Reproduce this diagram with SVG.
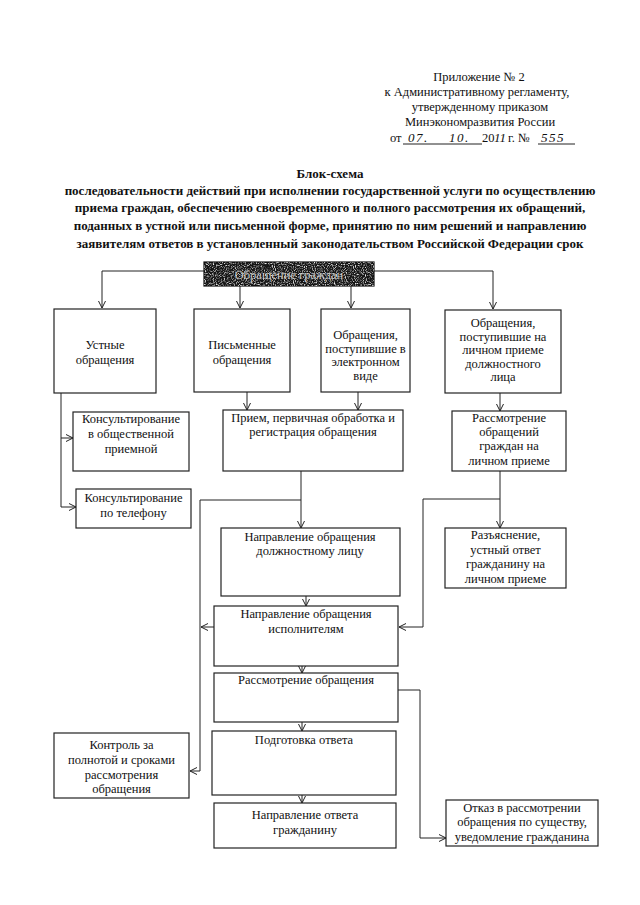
<svg xmlns="http://www.w3.org/2000/svg" width="640" height="905" viewBox="0 0 640 905">
<style>
.t{font-family:"Liberation Serif","Times New Roman",serif;font-size:12.5px;fill:#111;text-anchor:middle}
.l{text-anchor:start}
.b{font-weight:bold;font-size:13px}
.h{font-style:italic;font-size:13px;text-anchor:start;letter-spacing:1.5px}
.box{fill:#fff;stroke:#222;stroke-width:1.2}
.ln{fill:none;stroke:#222;stroke-width:1}
.arr{marker-end:url(#ah)}
</style>
<defs>
<marker id="ah" markerUnits="userSpaceOnUse" markerWidth="10" markerHeight="10" viewBox="0 0 10 10" refX="9" refY="5" orient="auto">
<path d="M2,1.5 L9,5 L2,8.5" fill="none" stroke="#222" stroke-width="1"/>
</marker>
<filter id="speck" x="0" y="0" width="100%" height="100%">
<feTurbulence type="fractalNoise" baseFrequency="0.9" numOctaves="1" seed="4" result="n"/>
<feColorMatrix in="n" type="matrix" values="0 0 0 0 0.85  0 0 0 0 0.85  0 0 0 0 0.85  3.2 0 0 0 -1.5"/>
<feComposite in2="SourceGraphic" operator="in"/>
</filter>
</defs>

<g id="header">
<text class="t" x="479" y="81">Приложение № 2</text>
<text class="t" x="477" y="96">к Административному регламенту,</text>
<text class="t" x="480" y="111">утвержденному приказом</text>
<text class="t" x="480" y="126">Минэкономразвития России</text>
<text class="t l" x="390" y="142">от</text>
<line class="ln" x1="403" y1="144" x2="482" y2="144"/>
<text class="t h" x="408" y="142">07.</text>
<text class="t h" x="449" y="142">10.</text>
<text class="t l" x="482" y="142">20</text>
<text class="t h" x="494" y="142" style="letter-spacing:0">11</text>
<text class="t l" x="508" y="142">г. №</text>
<line class="ln" x1="538" y1="144" x2="575" y2="144"/>
<text class="t h" x="541" y="142">555</text>
</g>

<g id="title">
<text class="t b" x="330" y="178">Блок-схема</text>
<text class="t b" x="330" y="195">последовательности действий при исполнении государственной услуги по осуществлению</text>
<text class="t b" x="330" y="212">приема граждан, обеспечению своевременного и полного рассмотрения их обращений,</text>
<text class="t b" x="330" y="230">поданных в устной или письменной форме, принятию по ним решений и направлению</text>
<text class="t b" x="330" y="248">заявителям ответов в установленный законодательством Российской Федерации срок</text>
</g>

<g id="connectors">
<polyline class="ln arr" points="204,271 102,271 102,308"/>
<polyline class="ln arr" points="374,271 493,271 493,309"/>
<line class="ln arr" x1="240" y1="286" x2="240" y2="308"/>
<line class="ln arr" x1="351" y1="286" x2="351" y2="308"/>
<line class="ln" x1="61" y1="393" x2="61" y2="507"/>
<line class="ln arr" x1="61" y1="438" x2="73" y2="438"/>
<line class="ln arr" x1="61" y1="507" x2="76" y2="507"/>
<line class="ln arr" x1="247" y1="392" x2="247" y2="410"/>
<line class="ln arr" x1="358" y1="392" x2="358" y2="410"/>
<line class="ln arr" x1="500" y1="393" x2="500" y2="411"/>
<line class="ln arr" x1="301" y1="471" x2="301" y2="528"/>
<polyline class="ln arr" points="301,500 200,500 200,771 190,771"/>
<line class="ln arr" x1="214" y1="627" x2="201" y2="627"/>
<line class="ln arr" x1="500" y1="471" x2="500" y2="528"/>
<polyline class="ln arr" points="500,499 423,499 423,627 399,627"/>
<line class="ln arr" x1="306" y1="596" x2="306" y2="606"/>
<line class="ln arr" x1="302" y1="666" x2="302" y2="673"/>
<line class="ln arr" x1="302" y1="722" x2="302" y2="731"/>
<line class="ln arr" x1="302" y1="795" x2="302" y2="803"/>
<polyline class="ln arr" points="398,690 420,690 420,838 446,838"/>
</g>

<g id="n-root">
<rect x="204" y="262" width="170" height="24" fill="#151515" stroke="#111" stroke-width="1.2"/>
<rect x="204" y="262" width="170" height="24" fill="#fff" filter="url(#speck)"/>
<text class="t" x="289" y="279" style="fill:#c8c8c8">Обращение граждан</text>
</g>
<g id="n-oral">
<rect class="box" x="54" y="309" width="102" height="84"/>
<text class="t" x="105" y="349">Устные</text>
<text class="t" x="105" y="364">обращения</text>
</g>
<g id="n-written">
<rect class="box" x="194" y="309" width="96" height="83"/>
<text class="t" x="242" y="349">Письменные</text>
<text class="t" x="242" y="364">обращения</text>
</g>
<g id="n-electronic">
<rect class="box" x="321" y="309" width="89" height="83"/>
<text class="t" x="365.5" y="339">Обращения,</text>
<text class="t" x="365.5" y="352.5">поступившие в</text>
<text class="t" x="365.5" y="366">электронном</text>
<text class="t" x="365.5" y="379.5">виде</text>
</g>
<g id="n-personal">
<rect class="box" x="445" y="310" width="116" height="83"/>
<text class="t" x="503" y="327">Обращения,</text>
<text class="t" x="503" y="340.5">поступившие на</text>
<text class="t" x="503" y="354">личном приеме</text>
<text class="t" x="503" y="367.5">должностного</text>
<text class="t" x="503" y="381">лица</text>
</g>
<g id="n-consult-public">
<rect class="box" x="73" y="412" width="116" height="59"/>
<text class="t" x="131" y="423">Консультирование</text>
<text class="t" x="131" y="438">в общественной</text>
<text class="t" x="131" y="453">приемной</text>
</g>
<g id="n-consult-phone">
<rect class="box" x="76" y="489" width="115" height="39"/>
<text class="t" x="133.5" y="502">Консультирование</text>
<text class="t" x="133.5" y="517">по телефону</text>
</g>
<g id="n-registration">
<rect class="box" x="223" y="410" width="180" height="61"/>
<text class="t" x="313" y="422">Прием, первичная обработка и</text>
<text class="t" x="313" y="436">регистрация обращения</text>
</g>
<g id="n-review-personal">
<rect class="box" x="452" y="411" width="114" height="60"/>
<text class="t" x="509" y="422">Рассмотрение</text>
<text class="t" x="509" y="436">обращений</text>
<text class="t" x="509" y="450">граждан на</text>
<text class="t" x="509" y="465">личном приеме</text>
</g>
<g id="n-to-official">
<rect class="box" x="221" y="528" width="179" height="68"/>
<text class="t" x="310" y="541">Направление обращения</text>
<text class="t" x="310" y="555">должностному лицу</text>
</g>
<g id="n-explain">
<rect class="box" x="445" y="528" width="121" height="60"/>
<text class="t" x="505.5" y="539">Разъяснение,</text>
<text class="t" x="505.5" y="553.5">устный ответ</text>
<text class="t" x="505.5" y="568">гражданину на</text>
<text class="t" x="505.5" y="582.5">личном приеме</text>
</g>
<g id="n-to-executors">
<rect class="box" x="214" y="606" width="184" height="60"/>
<text class="t" x="306" y="618">Направление обращения</text>
<text class="t" x="306" y="633">исполнителям</text>
</g>
<g id="n-review">
<rect class="box" x="214" y="673" width="184" height="49"/>
<text class="t" x="306" y="684">Рассмотрение обращения</text>
</g>
<g id="n-prepare">
<rect class="box" x="212" y="731" width="184" height="64"/>
<text class="t" x="304" y="744">Подготовка ответа</text>
</g>
<g id="n-send">
<rect class="box" x="214" y="803" width="182" height="45"/>
<text class="t" x="305" y="819">Направление ответа</text>
<text class="t" x="305" y="834">гражданину</text>
</g>
<g id="n-control">
<rect class="box" x="54" y="733" width="135" height="65"/>
<text class="t" x="121.5" y="749">Контроль за</text>
<text class="t" x="121.5" y="764">полнотой и сроками</text>
<text class="t" x="121.5" y="779">рассмотрения</text>
<text class="t" x="121.5" y="793">обращения</text>
</g>
<g id="n-refusal">
<rect class="box" x="446" y="800" width="152" height="46"/>
<text class="t" x="522" y="812">Отказ в рассмотрении</text>
<text class="t" x="522" y="826">обращения по существу,</text>
<text class="t" x="522" y="841">уведомление гражданина</text>
</g>
</svg>
